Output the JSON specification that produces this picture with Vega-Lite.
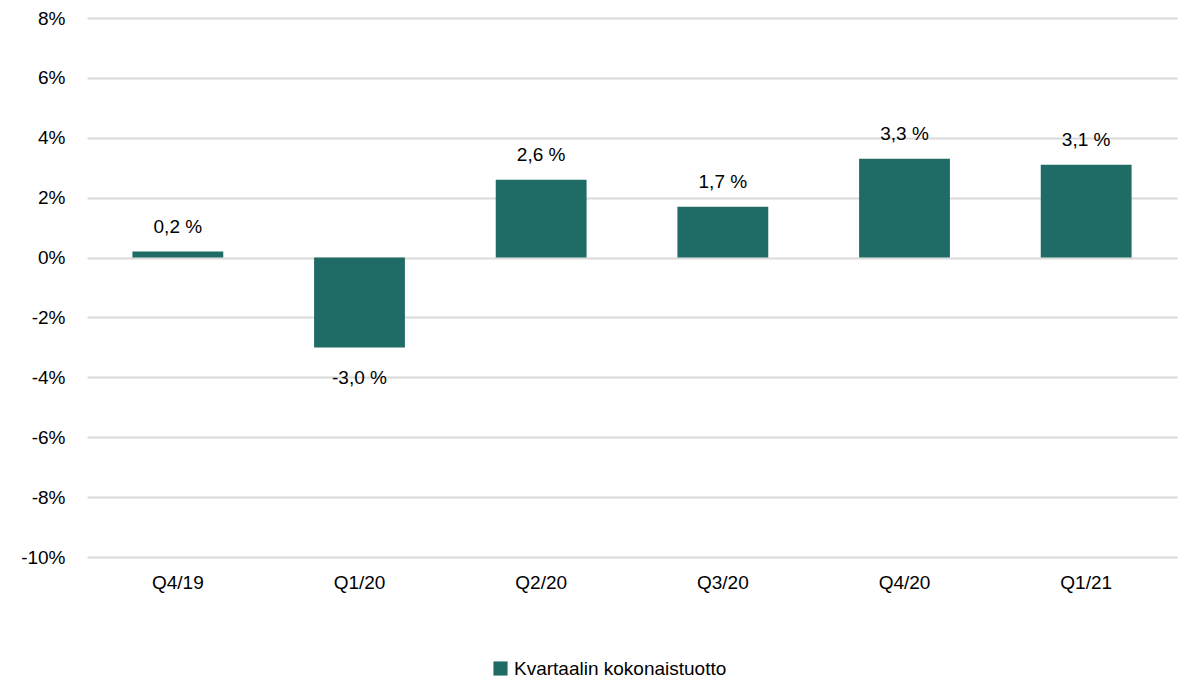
{
  "$schema": "https://vega.github.io/schema/vega-lite/v6.json",
  "width": 1090,
  "height": 539,
  "autosize": {"type": "none"},
  "padding": {"left": 87, "top": 18, "right": 4, "bottom": 122},
  "background": "white",
  "config": {
    "view": {"stroke": null},
    "font": "Liberation Sans, Arial, sans-serif",
    "axis": {"labelFont": "Liberation Sans, Arial, sans-serif", "labelFontSize": 19, "labelColor": "#000000"},
    "legend": {"labelFont": "Liberation Sans, Arial, sans-serif"}
  },
  "data": {
    "values": [
      {"quarter": "Q4/19", "value": 0.2, "label": "0,2 %", "series": "Kvartaalin kokonaistuotto"},
      {"quarter": "Q1/20", "value": -3.0, "label": "-3,0 %", "series": "Kvartaalin kokonaistuotto"},
      {"quarter": "Q2/20", "value": 2.6, "label": "2,6 %", "series": "Kvartaalin kokonaistuotto"},
      {"quarter": "Q3/20", "value": 1.7, "label": "1,7 %", "series": "Kvartaalin kokonaistuotto"},
      {"quarter": "Q4/20", "value": 3.3, "label": "3,3 %", "series": "Kvartaalin kokonaistuotto"},
      {"quarter": "Q1/21", "value": 3.1, "label": "3,1 %", "series": "Kvartaalin kokonaistuotto"}
    ]
  },
  "encoding": {
    "x": {
      "field": "quarter", "type": "nominal", "sort": null,
      "scale": {"paddingInner": 0.5, "paddingOuter": 0.25},
      "axis": {"title": null, "labelAngle": 0, "domain": false, "ticks": false, "labelPadding": 16, "grid": false}
    },
    "y": {
      "field": "value", "type": "quantitative",
      "scale": {"domain": [-10, 8], "nice": false},
      "axis": {
        "title": null, "values": [-10, -8, -6, -4, -2, 0, 2, 4, 6, 8],
        "labelExpr": "datum.value + '%'",
        "domain": false, "ticks": false, "labelPadding": 22,
        "gridColor": "#d9d9d9", "gridWidth": 2
      }
    }
  },
  "layer": [
    {
      "mark": {"type": "bar", "color": "#1f6b66"},
      "encoding": {
        "color": {
          "field": "series", "type": "nominal",
          "scale": {"range": ["#1f6b66"]},
          "legend": {
            "title": null, "orient": "none", "legendX": 404, "legendY": 641,
            "symbolType": "square", "symbolSize": 200, "symbolStrokeWidth": 0,
            "labelFontSize": 19, "labelColor": "#000000", "labelOffset": 4, "labelLimit": 0
          }
        }
      }
    },
    {
      "transform": [{"filter": "datum.value >= 0"}],
      "mark": {"type": "text", "baseline": "bottom", "dy": -15, "fontSize": 19, "color": "#000000"},
      "encoding": {"text": {"field": "label"}}
    },
    {
      "transform": [{"filter": "datum.value < 0"}],
      "mark": {"type": "text", "baseline": "top", "dy": 22, "fontSize": 19, "color": "#000000"},
      "encoding": {"text": {"field": "label"}}
    }
  ]
}
